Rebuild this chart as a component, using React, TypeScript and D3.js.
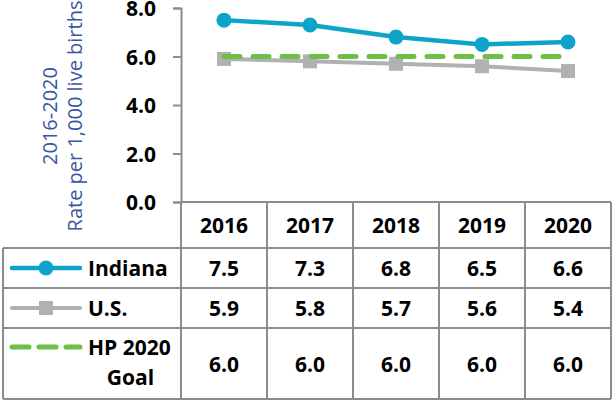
import React, { useEffect, useRef } from "react";
import * as d3 from "d3";

// data
const years = ["2016", "2017", "2018", "2019", "2020"];
const indiana = [7.5, 7.3, 6.8, 6.5, 6.6];
const usRate = [5.9, 5.8, 5.7, 5.6, 5.4];
const goal = [6.0, 6.0, 6.0, 6.0, 6.0];
const yTicks = [0, 2, 4, 6, 8];

const W = 613;
const H = 404;
const FONT = "'Open Sans', sans-serif";
const GRID = "#8c8c8c";

export default function App() {
  const ref = useRef<SVGSVGElement>(null);

  useEffect(() => {
    const svg = d3.select(ref.current);
    svg.selectAll("*").remove();

    const plotLeft = 181;
    const plotRight = 611;
    const plotTop = 8;
    const plotBottom = 202;
    const tableLeft = 3;
    // row boundaries: header, Indiana, U.S., Goal
    const rowEdges = [202, 248, 288, 328, 399];

    const x = d3.scaleBand().domain(years).range([plotLeft, plotRight]).padding(0);
    const y = d3.scaleLinear().domain([0, 8]).range([plotBottom, plotTop]);
    const bw = x.bandwidth();
    const cx = (i: number) => (x(years[i]) as number) + bw / 2;

    const series = [
      { name: "Indiana", values: indiana, color: "#0ea4c9", width: 4.5, marker: "circle", dash: null, keyDash: null },
      { name: "U.S.", values: usRate, color: "#b1b1b3", width: 4, marker: "square", dash: null, keyDash: null },
      { name: "HP 2020 Goal", values: goal, color: "#6cbf47", width: 5, marker: null, dash: "16 13", keyDash: "17 10" },
    ];

    // y axis
    const yAxis = svg
      .append("g")
      .attr("transform", "translate(" + plotLeft + ",0)")
      .call(
        d3
          .axisLeft(y)
          .tickValues(yTicks)
          .tickFormat(d3.format(".1f"))
          .tickSize(8)
          .tickSizeOuter(8)
          .tickPadding(17)
      );
    yAxis.selectAll("path, line").attr("stroke", GRID).attr("stroke-width", 2);
    yAxis
      .selectAll("text")
      .attr("font-family", FONT)
      .attr("font-weight", "bold")
      .attr("font-size", 21)
      .attr("fill", "#000")
      .attr("dy", "0.36em");

    // axis title
    const title = svg
      .append("text")
      .attr("transform", "translate(0,116) rotate(-90)")
      .attr("text-anchor", "middle")
      .attr("font-family", FONT)
      .attr("font-size", 20)
      .attr("fill", "#3a55a3");
    title.append("tspan").attr("x", 0).attr("y", 57).text("2016-2020");
    title.append("tspan").attr("x", 0).attr("y", 82).text("Rate per 1,000 live births");

    // table grid
    const grid = svg.append("g").attr("stroke", GRID).attr("stroke-width", 2);
    const colEdges = years.map((d) => x(d) as number).concat([plotRight]);
    colEdges.forEach((cxe) => {
      grid.append("line").attr("x1", cxe).attr("x2", cxe).attr("y1", rowEdges[0]).attr("y2", rowEdges[4]);
    });
    grid.append("line").attr("x1", plotLeft).attr("x2", plotRight).attr("y1", rowEdges[0]).attr("y2", rowEdges[0]);
    rowEdges.slice(1).forEach((ry) => {
      grid.append("line").attr("x1", tableLeft).attr("x2", plotRight).attr("y1", ry).attr("y2", ry);
    });
    grid.append("line").attr("x1", tableLeft).attr("x2", tableLeft).attr("y1", rowEdges[1]).attr("y2", rowEdges[4]);

    const cellText = (g: any) =>
      g.attr("font-family", FONT).attr("font-weight", "bold").attr("font-size", 21).attr("fill", "#000");

    // header
    years.forEach((yr, i) => {
      svg
        .append("text")
        .call(cellText)
        .attr("x", cx(i))
        .attr("y", (rowEdges[0] + rowEdges[1]) / 2 + 8)
        .attr("text-anchor", "middle")
        .text(yr);
    });

    // lines on the plot
    const lineGen = d3
      .line<number>()
      .x((d, i) => cx(i))
      .y((d) => y(d));

    const order = [1, 2, 0];
    order.forEach((si) => {
      const s = series[si];
      svg
        .append("path")
        .attr("d", lineGen(s.values))
        .attr("fill", "none")
        .attr("stroke", s.color)
        .attr("stroke-width", s.width)
        .attr("stroke-linecap", s.dash ? "round" : "butt")
        .attr("stroke-dasharray", s.dash);
      if (s.marker === "circle") {
        svg
          .selectAll(".m" + si)
          .data(s.values)
          .enter()
          .append("circle")
          .attr("cx", (d, i) => cx(i))
          .attr("cy", (d) => y(d))
          .attr("r", 7.5)
          .attr("fill", s.color);
      } else if (s.marker === "square") {
        svg
          .selectAll(".m" + si)
          .data(s.values)
          .enter()
          .append("rect")
          .attr("x", (d, i) => cx(i) - 7)
          .attr("y", (d) => y(d) - 7)
          .attr("width", 14)
          .attr("height", 14)
          .attr("fill", s.color);
      }
    });

    // data rows with legend keys
    series.forEach((s, si) => {
      const top = rowEdges[si + 1];
      const bottom = rowEdges[si + 2];
      const mid = (top + bottom) / 2;

      s.values.forEach((v, i) => {
        svg
          .append("text")
          .call(cellText)
          .attr("x", cx(i))
          .attr("y", mid + 8)
          .attr("text-anchor", "middle")
          .text(d3.format(".1f")(v));
      });

      const keyY = s.dash ? top + 19 : mid;
      svg
        .append("line")
        .attr("x1", 12)
        .attr("x2", 80)
        .attr("y1", keyY)
        .attr("y2", keyY)
        .attr("stroke", s.color)
        .attr("stroke-width", s.width)
        .attr("stroke-linecap", "round")
        .attr("stroke-dasharray", s.keyDash);
      if (s.marker === "circle") {
        svg.append("circle").attr("cx", 46).attr("cy", keyY).attr("r", 7.5).attr("fill", s.color);
      } else if (s.marker === "square") {
        svg.append("rect").attr("x", 39).attr("y", keyY - 7).attr("width", 14).attr("height", 14).attr("fill", s.color);
      }

      if (s.dash) {
        svg.append("text").call(cellText).attr("x", 88).attr("y", 355).text("HP 2020");
        svg.append("text").call(cellText).attr("x", 130.5).attr("y", 385).attr("text-anchor", "middle").text("Goal");
      } else {
        svg.append("text").call(cellText).attr("x", 88).attr("y", mid + 8).text(s.name);
      }
    });
  }, []);

  return (
    <svg
      ref={ref}
      width={W}
      height={H}
      style={{ position: "absolute", left: 0, top: 0, background: "#fff" }}
    />
  );
}
